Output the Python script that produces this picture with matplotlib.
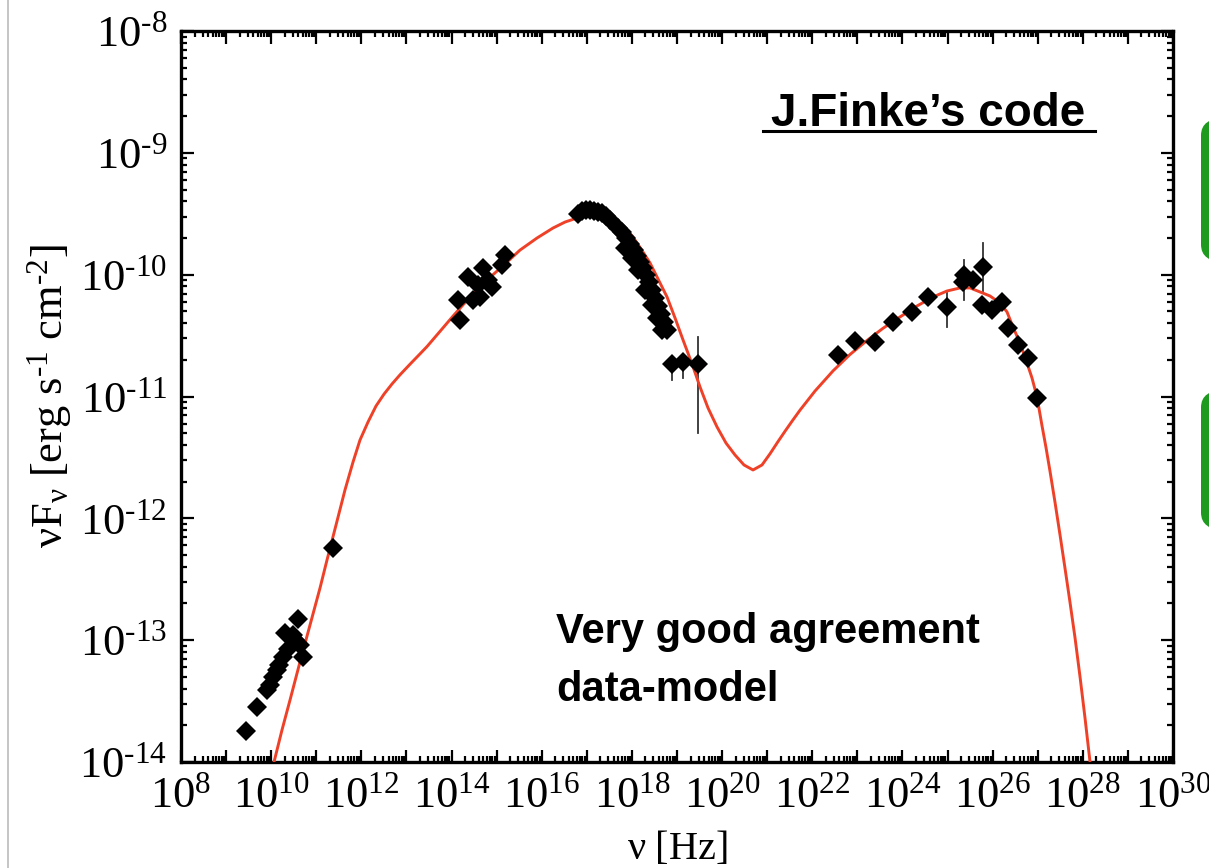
import matplotlib
matplotlib.use("Agg")
import matplotlib.pyplot as plt
import numpy as np
from matplotlib.ticker import LogLocator, FixedLocator, NullFormatter
from matplotlib.patches import FancyBboxPatch
from matplotlib.lines import Line2D

plt.rcParams['mathtext.fontset'] = 'custom'
plt.rcParams['mathtext.rm'] = 'Liberation Serif'
plt.rcParams['mathtext.it'] = 'Liberation Serif:italic'
plt.rcParams['font.family'] = 'Liberation Serif'

# ---- data (log10 values) ----
radio_lognu = [9.44, 9.69, 9.91, 9.97, 10.04, 10.13, 10.17, 10.26, 10.37, 10.31,
               10.48, 10.59, 10.64, 10.71, 10.53, 11.37]
radio_logf = [-13.746, -13.549, -13.409, -13.368, -13.302, -13.245, -13.204, -13.138,
              -13.073, -12.941, -12.958, -12.826, -13.040, -13.138, -12.999, -12.244]

opt_lognu = [14.19, 14.14, 14.36, 14.70, 14.59, 14.81, 15.19, 15.12, 14.90, 14.48, 14.63]
opt_logf = [-10.372, -10.208, -10.019, -9.945, -10.085, -10.044, -9.839, -9.921,
            -10.101, -10.208, -10.183]

xray_lognu = [16.80, 16.89, 16.98, 17.07, 17.16, 17.25, 17.34, 17.43, 17.52,
              17.69, 17.78, 17.87, 17.96, 18.05, 18.11, 18.18, 18.25, 18.31, 18.38,
              18.45, 18.51, 18.58, 18.65, 18.71, 18.78,
              17.85, 18.00, 18.13, 18.29, 18.45, 18.56, 18.67]
xray_logf = [-9.502, -9.477, -9.469, -9.469, -9.477, -9.486, -9.494, -9.518, -9.551,
             -9.617, -9.650, -9.699, -9.748, -9.798, -9.847, -9.896, -9.945, -10.003,
             -10.060, -10.126, -10.191, -10.257, -10.323, -10.389, -10.454,
             -9.781, -9.863, -9.962, -10.126, -10.249, -10.356, -10.454]

hx_lognu = [18.89, 19.13, 19.47]
hx_logf = [-10.733, -10.717, -10.733]
hx_logf_lo = [-10.865, -10.848, -11.30]
hx_logf_hi = [-10.733, -10.717, -10.512]

gam_lognu = [22.57, 22.94, 23.39, 23.79, 24.21, 24.56, 24.98, 25.36, 25.34, 25.56,
             25.78, 25.76, 25.98, 26.20, 26.34, 26.56, 26.78, 26.98]
gam_logf = [-10.66, -10.545, -10.55, -10.39, -10.31, -10.185, -10.266, -10.00, -10.06,
            -10.044, -9.94, -10.25, -10.29, -10.225, -10.44, -10.58, -10.68, -11.01]
gam_logf_lo = [-10.66, -10.545, -10.55, -10.39, -10.31, -10.185, -10.43, -10.21, -10.06,
               -10.044, -10.13, -10.25, -10.29, -10.225, -10.44, -10.58, -10.68, -11.01]
gam_logf_hi = [-10.66, -10.545, -10.55, -10.39, -10.31, -10.185, -10.151, -9.88, -10.06,
               -10.044, -9.74, -10.25, -10.29, -10.225, -10.44, -10.58, -10.68, -11.01]

model_lognu = [10.063, 10.240, 10.418, 10.639, 10.861, 11.083, 11.238, 11.438, 11.637,
               11.815, 11.970, 12.148, 12.325, 12.503, 12.680, 12.857, 13.079, 13.301,
               13.456, 13.745, 14.033, 14.410, 14.787, 15.186, 15.519, 15.896, 16.251,
               16.517, 16.783, 17.071, 17.293, 17.471, 17.582, 17.737, 17.892, 18.025,
               18.203, 18.402, 18.580, 18.779, 18.957, 19.134, 19.334, 19.511, 19.688,
               19.888, 20.087, 20.287, 20.486, 20.686, 20.885, 21.063, 21.240, 21.396,
               21.551, 21.728, 22.061, 22.460, 22.837, 23.214, 23.569, 23.946, 24.323,
               24.678, 24.989, 25.277, 25.499, 25.721, 25.942, 26.164, 26.319, 26.452,
               26.607, 26.762, 26.873, 26.984, 27.095, 27.184, 27.273, 27.384, 27.494,
               27.605, 27.716, 27.827, 27.938, 28.049, 28.160]
model_logf = [-14.000, -13.737, -13.491, -13.179, -12.876, -12.572, -12.342, -12.055,
              -11.767, -11.538, -11.357, -11.209, -11.078, -10.980, -10.897, -10.822,
              -10.735, -10.650, -10.590, -10.465, -10.340, -10.183, -10.044, -9.912,
              -9.798, -9.699, -9.617, -9.568, -9.535, -9.510, -9.510, -9.518, -9.535,
              -9.576, -9.633, -9.691, -9.789, -9.904, -10.036, -10.183, -10.356, -10.536,
              -10.733, -10.922, -11.094, -11.250, -11.382, -11.480, -11.562, -11.603,
              -11.562, -11.470, -11.370, -11.285, -11.203, -11.112, -10.955, -10.790,
              -10.655, -10.540, -10.440, -10.347, -10.257, -10.183, -10.134, -10.109,
              -10.109, -10.142, -10.175, -10.233, -10.306, -10.430, -10.561, -10.725,
              -10.848, -11.004, -11.240, -11.420, -11.615, -11.870, -12.135, -12.410,
              -12.690, -12.980, -13.300, -13.640, -14.000]

xtick_exps = list(range(8, 31, 2))
ytick_exps = list(range(-14, -7))

W, H = 1209, 868
fig = plt.figure(figsize=(W / 100, H / 100), dpi=100)
ax = fig.add_axes([181 / W, (H - 762) / H, (1173 - 181) / W, (762 - 31) / H])
ax.set_xscale('log')
ax.set_yscale('log')
ax.set_xlim(1e8, 1e30)
ax.set_ylim(1e-14, 1e-8)

p = lambda a: 10.0 ** np.asarray(a)

ax.plot(p(model_lognu), p(model_logf), color='#ee4128', lw=2.1, zorder=3,
        solid_joinstyle='round')

ms = 10.5
def errbars(xs, lo, hi):
    for x, l, h in zip(xs, lo, hi):
        if h - l > 1e-6:
            ax.plot([10 ** x, 10 ** x], [10 ** l, 10 ** h], color='#333333', lw=1.3, zorder=2)

errbars(hx_lognu, hx_logf_lo, hx_logf_hi)
errbars(gam_lognu, gam_logf_lo, gam_logf_hi)

for xs, ys in [(radio_lognu, radio_logf), (opt_lognu, opt_logf), (xray_lognu, xray_logf),
               (hx_lognu, hx_logf), (gam_lognu, gam_logf)]:
    ax.plot(p(xs), p(ys), linestyle='none', marker='D', ms=ms, color='black',
            markeredgewidth=0, zorder=4)

# ticks
ax.xaxis.set_major_locator(FixedLocator([10.0 ** e for e in range(8, 31)]))
ax.xaxis.set_minor_locator(LogLocator(base=10, subs=np.arange(2, 10), numticks=100))
ax.yaxis.set_major_locator(FixedLocator([10.0 ** e for e in range(-14, -7)]))
ax.yaxis.set_minor_locator(LogLocator(base=10, subs=np.arange(2, 10), numticks=100))
ax.xaxis.set_minor_formatter(NullFormatter())
ax.yaxis.set_minor_formatter(NullFormatter())

def sup(e):
    s = str(abs(e))
    if e < 0:
        return r'$\mathrm{10^{\text{-}%s}}$' % s
    return r'$\mathrm{10^{%s}}$' % s

def xfmt(v, pos):
    e = int(round(np.log10(v)))
    return sup(e) if e in xtick_exps else ''
def yfmt(v, pos):
    e = int(round(np.log10(v)))
    return sup(e) if e in ytick_exps else ''
ax.xaxis.set_major_formatter(plt.FuncFormatter(xfmt))
ax.yaxis.set_major_formatter(plt.FuncFormatter(yfmt))

ax.tick_params(which='both', direction='in', top=True, right=True, width=1.6,
               labelsize=32, colors='black')
ax.tick_params(which='major', length=9, pad=10)
ax.tick_params(which='minor', length=4.5)
for s in ax.spines.values():
    s.set_linewidth(2.4)

ax.set_xlabel(r'$\mathrm{\nu\ [Hz]}$', fontsize=29, labelpad=10)
ax.set_ylabel(r'$\mathrm{\nu F_{\nu}\ [erg\ s^{\text{-}1}\ cm^{\text{-}2}]}$', fontsize=32, labelpad=4)

# annotations
fig.text(928 / W, 1 - 126 / H, 'J.Finke\u2019s code', fontsize=33, fontweight='bold',
         family='Liberation Sans', ha='center', va='baseline')
fig.add_artist(Line2D([763 / W, 1095 / W], [1 - 131 / H, 1 - 131 / H], color='black', lw=2.2))
fig.text(556 / W, 1 - 632 / H, 'Very good agreement', fontsize=30, fontweight='bold',
         family='Liberation Sans', ha='left', va='center')
fig.text(556 / W, 1 - 690 / H, 'data-model', fontsize=30, fontweight='bold',
         family='Liberation Sans', ha='left', va='center')

# slide elements
fig.add_artist(Line2D([8 / W, 8 / W], [0, 1], color='#bbbbbb', lw=1.2))
for (y0, y1) in [(118, 262), (390, 530)]:
    sh = FancyBboxPatch((1205 / W, 1 - (y1 + 4) / H), 60 / W, (y1 - y0) / H,
                        boxstyle='round,pad=0,rounding_size=0.02', transform=fig.transFigure,
                        facecolor='#cccccc', edgecolor='none', alpha=0.6)
    fig.add_artist(sh)
    bx = FancyBboxPatch((1201 / W, 1 - y1 / H), 60 / W, (y1 - y0) / H,
                        boxstyle='round,pad=0,rounding_size=0.02', transform=fig.transFigure,
                        facecolor='#1e9a1e', edgecolor='none')
    fig.add_artist(bx)

fig.savefig('out.png', dpi=100)
